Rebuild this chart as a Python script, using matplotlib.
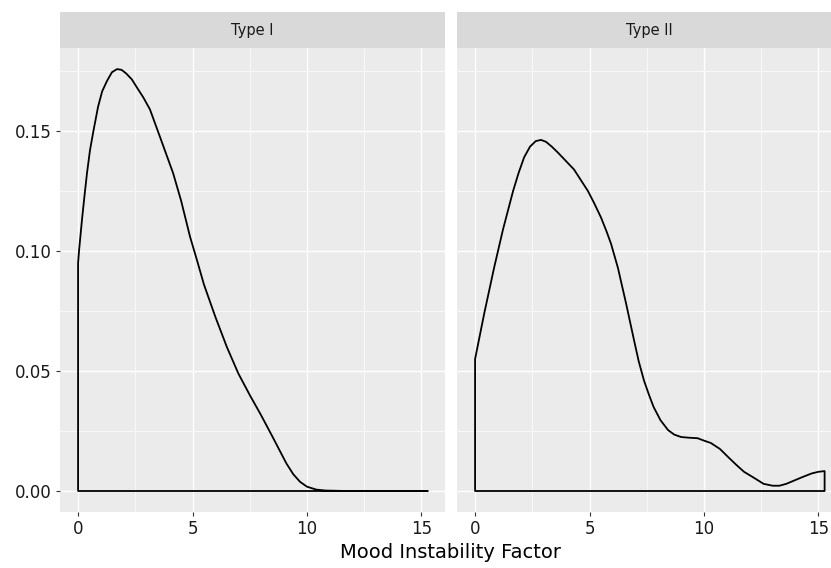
import numpy as np
import matplotlib
matplotlib.use("Agg")
import matplotlib.pyplot as plt
from matplotlib.ticker import MultipleLocator

# ─── data (density estimates per bipolar type) ───
type1_x = [0, 0.05, 0.17, 0.28, 0.39, 0.52, 0.67, 0.87, 1.05, 1.27, 1.48,
           1.7, 1.9, 2.1, 2.35, 2.58, 2.85, 3.14, 3.58, 4.15, 4.5, 4.89, 5.2,
           5.5, 6.0, 6.5, 7.0, 7.5, 8.0, 8.5, 8.8, 9.1, 9.4, 9.7, 10.0, 10.4,
           10.8, 11.5, 12.0, 13.0, 14.0, 15.27]
type1_y = [0.095, 0.101, 0.113, 0.123, 0.1325, 0.142, 0.150, 0.160, 0.1665,
           0.171, 0.1745, 0.1758, 0.1755, 0.174, 0.1715, 0.168, 0.164, 0.159,
           0.1475, 0.1325, 0.121, 0.106, 0.096, 0.086, 0.0725, 0.060, 0.049,
           0.040, 0.0315, 0.0225, 0.017, 0.0115, 0.007, 0.0038, 0.0018,
           0.0006, 0.0002, 0.00005, 0, 0, 0, 0]

type2_x = [0, 0.4, 0.83, 1.22, 1.66, 1.9, 2.14, 2.4, 2.65, 2.88, 3.1, 3.35,
           3.62, 4.32, 4.93, 5.2, 5.5, 5.75, 5.94, 6.24, 6.6, 6.94, 7.15,
           7.38, 7.6, 7.8, 8.1, 8.43, 8.7, 9.0, 9.35, 9.72, 10.0, 10.3, 10.7,
           11.05, 11.4, 11.75, 12.2, 12.6, 13.0, 13.3, 13.6, 13.9, 14.3, 14.7,
           15.0, 15.27]
type2_y = [0.055, 0.074, 0.093, 0.109, 0.125, 0.1325, 0.139, 0.1435, 0.1458,
           0.1463, 0.1455, 0.1435, 0.141, 0.134, 0.125, 0.120, 0.114, 0.108,
           0.103, 0.093, 0.078, 0.063, 0.054, 0.046, 0.040, 0.035, 0.0295,
           0.0254, 0.0235, 0.0225, 0.0222, 0.022, 0.021, 0.020, 0.0175,
           0.0142, 0.011, 0.008, 0.0054, 0.003, 0.0022, 0.0022, 0.003,
           0.0042, 0.0058, 0.0073, 0.008, 0.0083]

panels = ["Type I", "Type II"]
x_ticks = [0, 5, 10, 15]
y_ticks = [0.00, 0.05, 0.10, 0.15]

# ─── layout (pixel boxes, figure is 831 x 568) ───
W, H = 831, 568
fig = plt.figure(figsize=(W / 100, H / 100), dpi=100)
fig.patch.set_facecolor("white")

def box(l, r, t, b):
    return [l / W, 1 - b / H, (r - l) / W, (b - t) / H]

panel_lr = [(60, 445), (457, 842)]
series = [(type1_x, type1_y), (type2_x, type2_y)]

for i, ((l, r), (xs, ys), name) in enumerate(zip(panel_lr, series, panels)):
    ax = fig.add_axes(box(l, r, 48, 512))
    ax.set_facecolor("#EBEBEB")
    for s in ax.spines.values():
        s.set_visible(False)
    ax.set_xlim(-0.79, 16.03)
    ax.set_ylim(-0.00875, 0.1846)
    ax.set_xticks(x_ticks)
    ax.set_yticks(y_ticks)
    ax.xaxis.set_minor_locator(MultipleLocator(2.5))
    ax.yaxis.set_minor_locator(MultipleLocator(0.025))
    ax.grid(which="major", color="white", lw=1.0)
    ax.grid(which="minor", color="white", lw=0.5)
    ax.set_axisbelow(True)
    ax.tick_params(which="minor", length=0)
    ax.tick_params(which="major", length=3, width=0.8, color="#333333",
                   labelsize=12, labelcolor="#1a1a1a", pad=3)
    ax.set_xticklabels([str(t) for t in x_ticks])
    if i == 0:
        ax.set_yticklabels([f"{t:.2f}" for t in y_ticks])
    else:
        ax.tick_params(axis="y", left=False, labelleft=False)

    # density outline as closed polygon (like geom_density)
    px = [0] + list(xs) + [xs[-1]]
    py = [0] + list(ys) + [0]
    ax.fill(px, py, facecolor="none", edgecolor="black", lw=1.3,
            joinstyle="round")

    # facet strip
    sax = fig.add_axes(box(l, r, 12, 48))
    sax.set_facecolor("#D9D9D9")
    for s in sax.spines.values():
        s.set_visible(False)
    sax.set_xticks([])
    sax.set_yticks([])
    sax.text(0.5, 0.5, name, ha="center", va="center", fontsize=10.5,
             color="#1a1a1a", transform=sax.transAxes)

fig.text(451 / W, 1 - 552 / H, "Mood Instability Factor", ha="center",
         va="center", fontsize=14, color="black")

fig.savefig("out.png", dpi=100)
